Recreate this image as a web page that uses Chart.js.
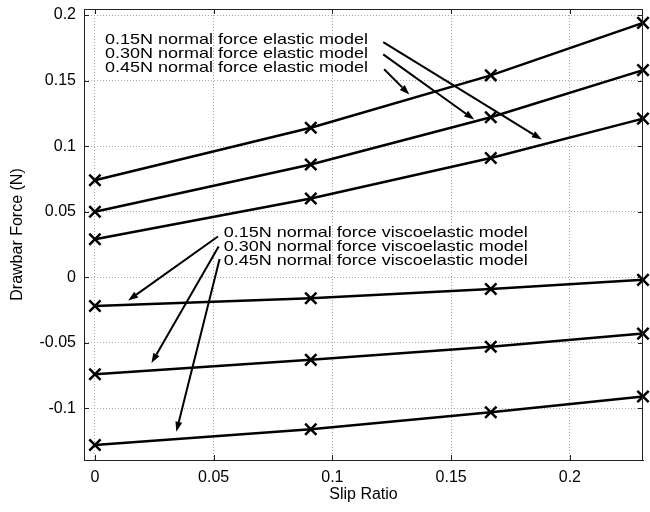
<!DOCTYPE html>
<html><head><meta charset="utf-8">
<script src="https://cdn.jsdelivr.net/npm/chart.js@4/dist/chart.umd.min.js"></script>
<style>html,body{margin:0;padding:0;background:#fff;overflow:hidden}#wrap{width:650px;height:512px;position:relative}canvas{display:block}</style>
</head><body><div id="wrap"><canvas id="c"></canvas></div>
<script>
const slipRatio = [0, 0.0909, 0.1667, 0.2308];
const elastic015 = [0.074, 0.114, 0.154, 0.194];
const elastic030 = [0.050, 0.086, 0.122, 0.158];
const elastic045 = [0.029, 0.060, 0.091, 0.121];
const visco015 = [-0.022, -0.016, -0.009, -0.002];
const visco030 = [-0.074, -0.063, -0.053, -0.043];
const visco045 = [-0.128, -0.116, -0.103, -0.091];
const xTicks = [0, 0.05, 0.1, 0.15, 0.2];
const yTicks = [-0.1, -0.05, 0, 0.05, 0.1, 0.15, 0.2];
const xTitle = 'Slip Ratio';
const yTitle = 'Drawbar Force (N)';
const elasticLabels = ['0.15N normal force elastic model','0.30N normal force elastic model','0.45N normal force elastic model'];
const viscoLabels = ['0.15N normal force viscoelastic model','0.30N normal force viscoelastic model','0.45N normal force viscoelastic model'];
// annotation anchors (data units): [x, y of first line]
const elasticTextAt = [0.0042, 0.1811];
const viscoTextAt = [0.0542, 0.0338];
// arrows (data units): [xFrom, yFrom, xTo, yTo]
const elasticArrows = [[0.1214,0.1794,0.1882,0.1050],[0.1214,0.1700,0.1597,0.1203],[0.1218,0.1586,0.1324,0.1394]];
const viscoArrows = [[0.0518,0.0311,0.0140,-0.0177],[0.0521,0.0235,0.0238,-0.0655],[0.0525,0.0139,0.0343,-0.1178]];

const FONT = '"Liberation Sans", Arial, Helvetica, sans-serif';
const series = [elastic015, elastic030, elastic045, visco015, visco030, visco045];
const datasets = series.map(s => ({
  data: s.map((v, i) => ({x: slipRatio[i], y: v})),
  showLine: true, borderColor: '#000', backgroundColor: '#000', borderWidth: 2.5,
  pointStyle: 'crossRot', pointRadius: 8, pointBorderWidth: 2.5, tension: 0, clip: false
}));

const annot = {
  id: 'annot',
  afterDraw(chart) {
    const ctx = chart.ctx, xs = chart.scales.x, ys = chart.scales.y, a = chart.chartArea;
    ctx.save();
    // box + inward ticks
    ctx.strokeStyle = '#222'; ctx.lineWidth = 1;
    ctx.beginPath();
    ctx.moveTo(a.left, a.top + 0.5); ctx.lineTo(a.right, a.top + 0.5);
    ctx.moveTo(a.right - 0.5, a.top); ctx.lineTo(a.right - 0.5, a.bottom);
    xTicks.forEach(v => { const p = Math.round(xs.getPixelForValue(v)) + 0.5;
      ctx.moveTo(p, a.bottom); ctx.lineTo(p, a.bottom - 5);
      ctx.moveTo(p, a.top); ctx.lineTo(p, a.top + 5); });
    yTicks.forEach(v => { const p = Math.round(ys.getPixelForValue(v)) + 0.5;
      ctx.moveTo(a.left, p); ctx.lineTo(a.left + 5, p);
      ctx.moveTo(a.right, p); ctx.lineTo(a.right - 5, p); });
    ctx.stroke();
    // text
    ctx.fillStyle = '#000'; ctx.font = '15px ' + FONT; ctx.textBaseline = 'middle'; ctx.textAlign = 'left';
    const drawText = (lines, at, step) => {
      const px = xs.getPixelForValue(at[0]), py = ys.getPixelForValue(at[1]);
      lines.forEach((t, i) => { ctx.save(); ctx.translate(px, py + i * step); ctx.scale(1.2, 1); ctx.fillText(t, 0, 0); ctx.restore(); });
    };
    drawText(elasticLabels, elasticTextAt, 14.2);
    drawText(viscoLabels, viscoTextAt, 13.8);
    // arrows
    ctx.strokeStyle = '#000'; ctx.lineWidth = 2;
    [...elasticArrows, ...viscoArrows].forEach(ar => {
      const x0 = xs.getPixelForValue(ar[0]), y0 = ys.getPixelForValue(ar[1]);
      const x1 = xs.getPixelForValue(ar[2]), y1 = ys.getPixelForValue(ar[3]);
      const ang = Math.atan2(y1 - y0, x1 - x0), L = 10, W = 3.5;
      const bx = x1 - L * Math.cos(ang), by = y1 - L * Math.sin(ang);
      ctx.beginPath(); ctx.moveTo(x0, y0); ctx.lineTo(bx, by); ctx.stroke();
      ctx.beginPath(); ctx.moveTo(x1, y1);
      ctx.lineTo(bx + W * Math.sin(ang), by - W * Math.cos(ang));
      ctx.lineTo(bx - W * Math.sin(ang), by + W * Math.cos(ang));
      ctx.closePath(); ctx.fill();
    });
    ctx.restore();
  }
};

const noPad = s => { s.paddingTop = 0; s.paddingBottom = 0; s.paddingLeft = 0; s.paddingRight = 0; };

new Chart(document.getElementById('c'), {
  type: 'scatter',
  data: {datasets},
  options: {
    responsive: true, maintainAspectRatio: false, animation: false,
    layout: {autoPadding: false, padding: {top: 9, right: 7, left: 0, bottom: 0}},
    plugins: {legend: {display: false}, tooltip: {enabled: false}},
    scales: {
      x: {
        type: 'linear', min: -0.0046, max: 0.2308,
        afterBuildTicks: s => { s.ticks = xTicks.map(v => ({value: v})); },
        afterFit: s => { s.height = 52; noPad(s); },
        ticks: {callback: v => String(v), font: {family: FONT, size: 16}, color: '#000', padding: 8, maxRotation: 0},
        grid: {color: '#a8a8a8', drawTicks: false, lineWidth: 1},
        border: {color: '#222', width: 1, dash: [1, 2]},
        title: {display: true, text: xTitle, font: {family: FONT, size: 16}, color: '#000', padding: {top: 8, bottom: 8}}
      },
      y: {
        type: 'linear', min: -0.1394, max: 0.2046,
        afterBuildTicks: s => { s.ticks = yTicks.map(v => ({value: v})); },
        afterFit: s => { s.width = 84; noPad(s); },
        ticks: {callback: v => String(v), font: {family: FONT, size: 16}, color: '#000', padding: 8},
        grid: {color: '#a8a8a8', drawTicks: false, lineWidth: 1},
        border: {color: '#222', width: 1, dash: [1, 2]},
        title: {display: true, text: yTitle, font: {family: FONT, size: 16}, color: '#000', padding: {top: 8, bottom: 8}}
      }
    }
  },
  plugins: [annot]
});
</script></body></html>
